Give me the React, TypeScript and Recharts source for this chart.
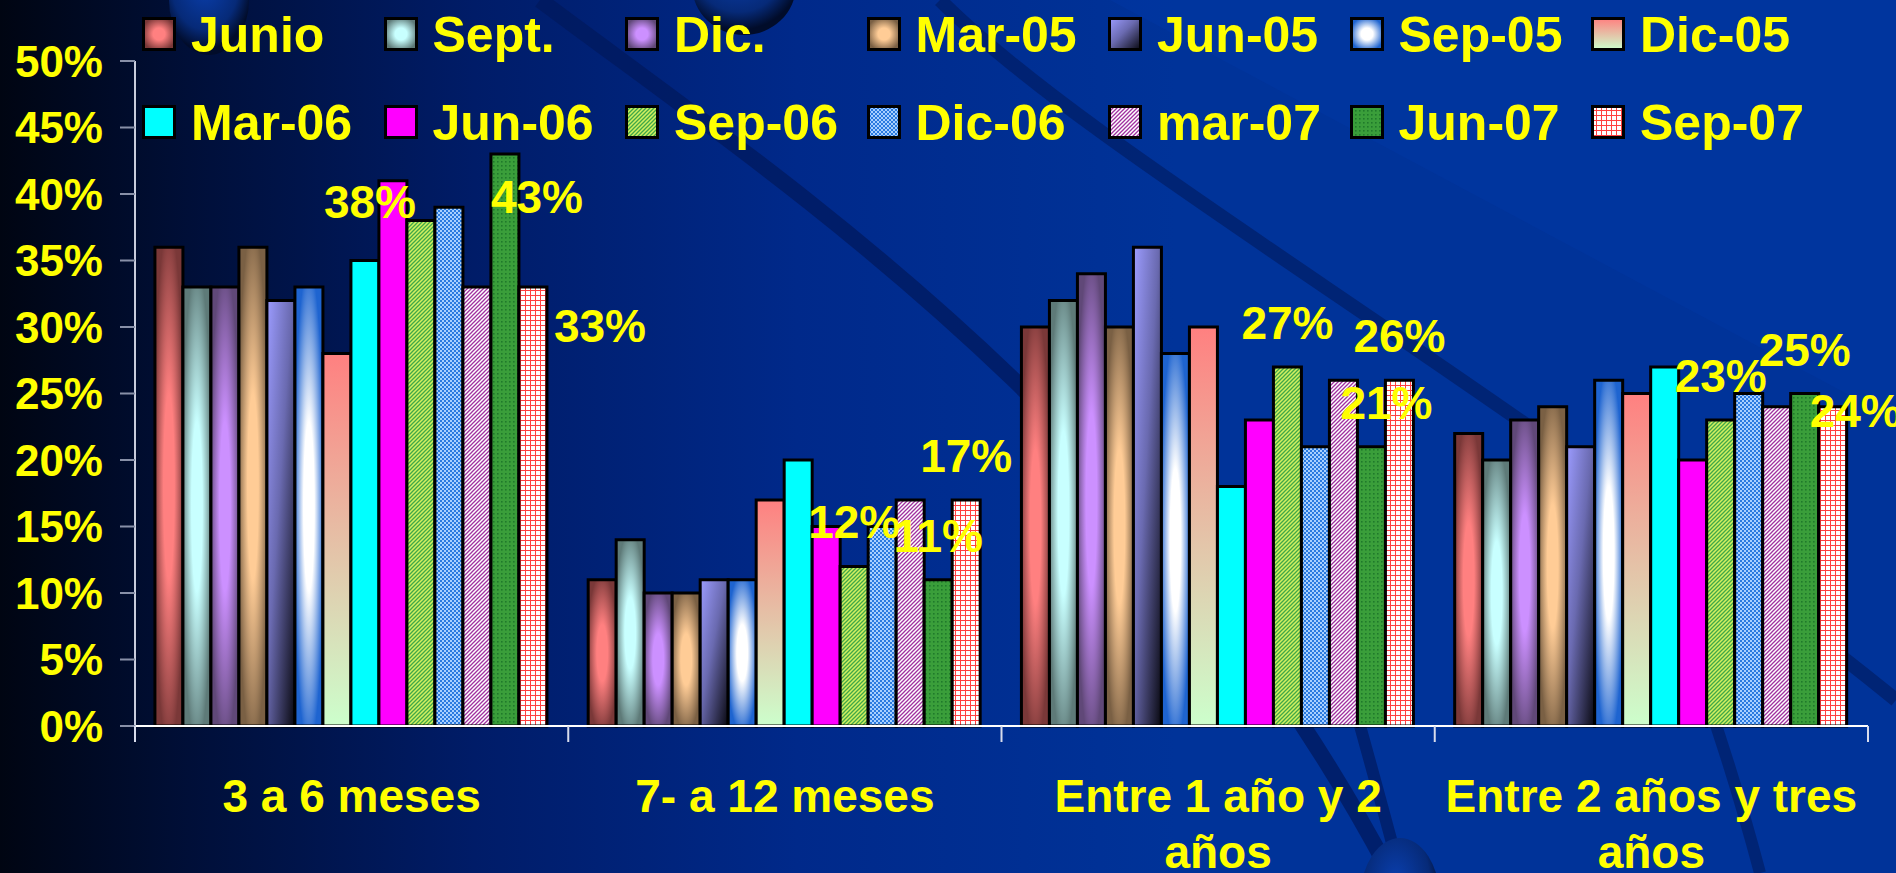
import { BarChart, Bar, XAxis, YAxis, LabelList } from 'recharts';

// categories and series (values in %)
const categories = ['3 a 6 meses', '7- a 12 meses', 'Entre 1 año y 2 años', 'Entre 2 años y tres años'];
const categoryLines = [['3 a 6 meses'], ['7- a 12 meses'], ['Entre 1 año y 2', 'años'], ['Entre 2 años y tres', 'años']];
const seriesNames = ['Junio', 'Sept.', 'Dic.', 'Mar-05', 'Jun-05', 'Sep-05', 'Dic-05', 'Mar-06', 'Jun-06', 'Sep-06', 'Dic-06', 'mar-07', 'Jun-07', 'Sep-07'];

const junio = [36, 11, 30, 22];
const sept = [33, 14, 32, 20];
const dic = [33, 10, 34, 23];
const mar05 = [36, 10, 30, 24];
const jun05 = [32, 11, 36, 21];
const sep05 = [33, 11, 28, 26];
const dic05 = [28, 17, 30, 25];
const mar06 = [35, 20, 18, 27];
const jun06 = [41, 15, 23, 20];
const sep06 = [38, 12, 27, 23];
const dic06 = [39, 15, 21, 25];
const mar07 = [33, 17, 26, 24];
const jun07 = [43, 11, 21, 25];
const sep07 = [33, 17, 26, 24];

const seriesValues = [junio, sept, dic, mar05, jun05, sep05, dic05, mar06, jun06, sep06, dic06, mar07, jun07, sep07];
const yTicks = [0, 5, 10, 15, 20, 25, 30, 35, 40, 45, 50];
const labelledSeries = [9, 12, 13]; // Sep-06, Jun-07, Sep-07

// hand-moved labels in the original slide (series-category -> dx, dy)
const labelOffsets: Record<string, [number, number]> = {
  '9-0': [-51, 25],
  '12-0': [32, 87],
  '13-0': [67, 83],
  '12-2': [15, 0],
  '13-3': [23, 48],
};

const data = categories.map((c, ci) => {
  const row: Record<string, string | number> = { category: c };
  seriesValues.forEach((vals, si) => {
    row[`k${si}`] = vals[ci];
  });
  return row;
});

const W = 1896;
const H = 873;
const PLOT_LEFT = 135;
const PLOT_RIGHT = 28;
const PLOT_TOP = 61;
const X_AXIS_H = 147;
const PLOT_W = W - PLOT_LEFT - PLOT_RIGHT;
const YELLOW = '#ffff00';
const FONT = '"Liberation Sans", Arial, sans-serif';

type FillSpec =
  | { kind: 'radial'; edge: string; center: string }
  | { kind: 'linear'; x2: number; y2: number; stops: [number, string][] }
  | { kind: 'solid'; color: string }
  | { kind: 'pattern'; pattern: 'diag' | 'check' | 'grid' | 'dots'; bg: string; fg: string };

const seriesFills: FillSpec[] = [
  { kind: 'radial', edge: '#7a3838', center: '#ff8080' },
  { kind: 'radial', edge: '#5e7a78', center: '#c8ffff' },
  { kind: 'radial', edge: '#604878', center: '#cc90ff' },
  { kind: 'radial', edge: '#7a6044', center: '#ffcc96' },
  { kind: 'linear', x2: 1, y2: 1, stops: [[0, '#9c9cff'], [0.45, '#6a6ab0'], [1, '#08080f']] },
  { kind: 'radial', edge: '#1e64d0', center: '#ffffff' },
  { kind: 'linear', x2: 0, y2: 1, stops: [[0, '#ff8080'], [1, '#ccffcc']] },
  { kind: 'solid', color: '#00ffff' },
  { kind: 'solid', color: '#ff00ff' },
  { kind: 'pattern', pattern: 'diag', bg: '#d4f060', fg: '#40a848' },
  { kind: 'pattern', pattern: 'check', bg: '#a8d0ff', fg: '#2a7ae0' },
  { kind: 'pattern', pattern: 'diag', bg: '#ffffff', fg: '#a030a0' },
  { kind: 'pattern', pattern: 'dots', bg: '#3a9e3a', fg: '#1f7a2a' },
  { kind: 'pattern', pattern: 'grid', bg: '#ffffff', fg: '#ff4040' },
];

const renderDef = (spec: FillSpec, id: string) => {
  if (spec.kind === 'radial') {
    return (
      <radialGradient key={id} id={id} cx="0.5" cy="0.5" r="0.55">
        <stop offset="0" stopColor={spec.center} />
        <stop offset="0.35" stopColor={spec.center} stopOpacity={1} />
        <stop offset="1" stopColor={spec.edge} />
      </radialGradient>
    );
  }
  if (spec.kind === 'linear') {
    return (
      <linearGradient key={id} id={id} x1="0" y1="0" x2={spec.x2} y2={spec.y2}>
        {spec.stops.map(([o, c], i) => (
          <stop key={i} offset={o} stopColor={c} />
        ))}
      </linearGradient>
    );
  }
  if (spec.kind === 'pattern') {
    if (spec.pattern === 'diag') {
      return (
        <pattern key={id} id={id} width={4} height={4} patternUnits="userSpaceOnUse">
          <rect width={4} height={4} fill={spec.bg} />
          <path d="M-1,1 l2,-2 M0,4 l4,-4 M3,5 l2,-2" stroke={spec.fg} strokeWidth={1.3} />
        </pattern>
      );
    }
    if (spec.pattern === 'check') {
      return (
        <pattern key={id} id={id} width={4} height={4} patternUnits="userSpaceOnUse">
          <rect width={4} height={4} fill={spec.bg} />
          <rect x={0} y={0} width={2} height={2} fill={spec.fg} />
          <rect x={2} y={2} width={2} height={2} fill={spec.fg} />
        </pattern>
      );
    }
    if (spec.pattern === 'grid') {
      return (
        <pattern key={id} id={id} width={5} height={5} patternUnits="userSpaceOnUse">
          <rect width={5} height={5} fill={spec.bg} />
          <path d="M0,0.5 H5 M0.5,0 V5" stroke={spec.fg} strokeWidth={1} />
        </pattern>
      );
    }
    return (
      <pattern key={id} id={id} width={4} height={4} patternUnits="userSpaceOnUse">
        <rect width={4} height={4} fill={spec.bg} />
        <rect x={1} y={1} width={1.6} height={1.6} fill={spec.fg} />
      </pattern>
    );
  }
  return null;
};

const fillOf = (si: number, prefix: string) => {
  const spec = seriesFills[si];
  return spec.kind === 'solid' ? spec.color : `url(#${prefix}${si})`;
};

const CategoryTick = (props: any) => {
  const { x, y, index } = props;
  const lines = categoryLines[index] ?? [String(props.payload?.value ?? '')];
  const band = PLOT_W / categories.length;
  const left = x - band / 2;
  return (
    <g>
      <line x1={left} y1={y} x2={left} y2={y + 16} stroke="#d8dcec" strokeWidth={2} />
      {index === categories.length - 1 && (
        <line x1={left + band} y1={y} x2={left + band} y2={y + 16} stroke="#d8dcec" strokeWidth={2} />
      )}
      <text x={x} y={y + 86} textAnchor="middle" fill={YELLOW} fontSize={46} fontWeight="bold" fontFamily={FONT}>
        {lines.map((l: string, i: number) => (
          <tspan key={i} x={x} dy={i === 0 ? 0 : 56}>
            {l}
          </tspan>
        ))}
      </text>
    </g>
  );
};

const makeLabel = (si: number) => (props: any) => {
  const vb = props.viewBox ?? props;
  const x = Number(vb.x ?? props.x);
  const y = Number(vb.y ?? props.y);
  const width = Number(vb.width ?? props.width);
  const off = labelOffsets[`${si}-${props.index}`] ?? [0, 0];
  return (
    <text
      x={x + width / 2 + off[0]}
      y={y - 44 + off[1]}
      textAnchor="middle"
      dominantBaseline="central"
      fill={YELLOW}
      fontSize={46}
      fontWeight="bold"
      fontFamily={FONT}
    >
      {props.value}%
    </text>
  );
};

const Legend = () => (
  <div style={{ position: 'absolute', left: 0, top: 0, width: W, height: 150, pointerEvents: 'none' }}>
    {seriesNames.map((name, si) => {
      const row = Math.floor(si / 7);
      const col = si % 7;
      const left = 142 + col * 241.5;
      const top = row === 0 ? 17 : 105;
      return (
        <div key={name} style={{ position: 'absolute', left, top, display: 'flex', alignItems: 'center', height: 34 }}>
          <svg width={34} height={34} style={{ display: 'block' }}>
            <defs>{renderDef(seriesFills[si], `lg${si}`)}</defs>
            <rect x={1.5} y={1.5} width={31} height={31} fill={fillOf(si, 'lg')} stroke="#000" strokeWidth={3} />
          </svg>
          <span
            style={{
              marginLeft: 15,
              color: YELLOW,
              fontFamily: FONT,
              fontWeight: 'bold',
              fontSize: 50,
              lineHeight: '34px',
              whiteSpace: 'nowrap',
              position: 'relative',
              top: 1,
            }}
          >
            {name}
          </span>
        </div>
      );
    })}
  </div>
);

const Backdrop = () => (
  <svg width={W} height={H} style={{ position: 'absolute', left: 0, top: 0 }}>
    <defs>
      <linearGradient id="bgGrad" x1="0" y1="0" x2="1" y2="0">
        <stop offset="0" stopColor="#000512" />
        <stop offset="0.1" stopColor="#000f38" />
        <stop offset="0.25" stopColor="#001c68" />
        <stop offset="0.42" stopColor="#00298a" />
        <stop offset="0.62" stopColor="#003399" />
        <stop offset="1" stopColor="#003399" />
      </linearGradient>
      <radialGradient id="sphere" cx="0.45" cy="0.35" r="0.6">
        <stop offset="0" stopColor="#0a3fae" />
        <stop offset="0.7" stopColor="#062a78" />
        <stop offset="1" stopColor="#010c2a" />
      </radialGradient>
    </defs>
    <rect width={W} height={H} fill="url(#bgGrad)" />
    <path d="M575,0 L1110,0 L1896,420 L1896,0 Z" fill="#0038a8" opacity={0.35} />
    <path d="M540,0 C780,180 1150,420 1390,873" stroke="#001a5e" strokeWidth={16} fill="none" opacity={0.75} />
    <path d="M940,0 C1100,160 1500,380 1896,700" stroke="#001a5e" strokeWidth={14} fill="none" opacity={0.6} />
    <path d="M1300,520 C1340,650 1370,760 1400,873" stroke="#001a5e" strokeWidth={12} fill="none" opacity={0.7} />
    <path d="M1600,450 C1680,600 1730,760 1760,873" stroke="#001a5e" strokeWidth={12} fill="none" opacity={0.6} />
    <ellipse cx={209} cy={0} rx={40} ry={55} fill="url(#sphere)" />
    <ellipse cx={744} cy={-15} rx={52} ry={50} fill="url(#sphere)" />
    <ellipse cx={1400} cy={900} rx={40} ry={62} fill="url(#sphere)" />
  </svg>
);

export default function App() {
  return (
    <div style={{ position: 'fixed', left: 0, top: 0, width: W, height: H, overflow: 'hidden', fontFamily: FONT }}>
      <Backdrop />
      <div style={{ position: 'absolute', left: 0, top: 0 }}>
        <BarChart
          width={W}
          height={H}
          data={data}
          margin={{ top: PLOT_TOP, right: PLOT_RIGHT, bottom: 0, left: 0 }}
          barCategoryGap="4.6%"
          barGap={0}
        >
          <defs>{seriesFills.map((s, si) => renderDef(s, `bf${si}`))}</defs>
          <XAxis
            dataKey="category"
            height={X_AXIS_H}
            interval={0}
            tickSize={0}
            tickMargin={0}
            tickLine={false}
            axisLine={{ stroke: '#ffffff', strokeWidth: 2 }}
            tick={CategoryTick}
          />
          <YAxis
            width={PLOT_LEFT}
            domain={[0, 50]}
            ticks={yTicks}
            interval={0}
            tickFormatter={(v: number) => `${v}%`}
            tickSize={15}
            tickMargin={17}
            axisLine={{ stroke: '#c8ccdc', strokeWidth: 2 }}
            tickLine={{ stroke: '#8890a8', strokeWidth: 2 }}
            tick={{ fill: YELLOW, fontSize: 44, fontWeight: 'bold', fontFamily: FONT }}
          />
          {seriesNames.map((name, si) => (
            <Bar
              key={name}
              dataKey={`k${si}`}
              name={name}
              fill={fillOf(si, 'bf')}
              stroke="#000000"
              strokeWidth={3}
              isAnimationActive={false}
            >
              {labelledSeries.includes(si) && <LabelList dataKey={`k${si}`} content={makeLabel(si)} />}
            </Bar>
          ))}
        </BarChart>
      </div>
      <Legend />
    </div>
  );
}
